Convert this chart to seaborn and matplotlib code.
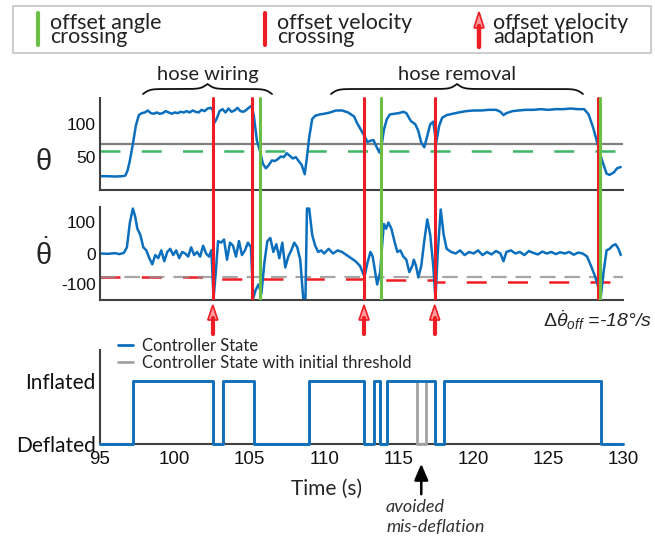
import numpy as np
import matplotlib
matplotlib.use("Agg")
import matplotlib.pyplot as plt
import matplotlib.transforms as mtrans
from matplotlib.lines import Line2D
from matplotlib.patches import Rectangle, Polygon
import seaborn as sns

# joint angle theta (deg) over time (s)
theta_t = [95.0, 95.5, 96.0, 96.5, 96.7, 96.85, 97.0, 97.2, 97.4, 97.6, 97.8, 98.0, 98.2, 98.4,
           98.6, 98.8, 99.0, 99.2, 99.4, 99.6, 99.8, 100.0, 100.2, 100.4, 100.6, 100.8, 101.0,
           101.2, 101.4, 101.6, 101.8, 102.0, 102.2, 102.4, 102.55, 102.62, 102.8, 103.0, 103.2,
           103.4, 103.6, 103.8, 104.0, 104.2, 104.4, 104.6, 104.8, 105.0, 105.15, 105.3, 105.5,
           105.7, 105.9, 106.1, 106.3, 106.5, 106.7, 106.9, 107.1, 107.3, 107.5, 107.7, 107.9,
           108.1, 108.3, 108.5, 108.7, 108.85, 109.0, 109.2, 109.4, 109.7, 110.0, 110.4, 110.8,
           111.2, 111.6, 112.0, 112.2, 112.5, 112.7, 112.9, 113.1, 113.3, 113.5, 113.7, 113.85,
           114.0, 114.2, 114.4, 114.7, 115.0, 115.3, 115.5, 115.8, 116.1, 116.3, 116.5, 116.7,
           116.9, 117.1, 117.3, 117.4, 117.5, 117.7, 117.9, 118.2, 118.6, 119.0, 119.5, 120.0,
           120.5, 121.0, 121.5, 121.8, 122.0, 122.2, 122.6, 123.0, 123.5, 124.0, 124.5, 125.0,
           125.5, 126.0, 126.5, 127.0, 127.4, 127.7, 128.0, 128.3, 128.6, 128.9, 129.1, 129.4,
           129.6, 129.85]
theta_v = [21, 21, 20.5, 21, 22, 30, 45, 70, 98, 114, 117, 118, 121, 117,
           116, 118, 116, 117, 120, 118, 116, 118, 117, 119, 118, 120, 118,
           121, 119, 118, 122, 120, 124, 125, 122, 101, 108, 120, 123,
           118, 124, 119, 121, 125, 120, 119, 122, 126, 128, 112, 75,
           60, 40, 33, 38, 45, 44, 47, 51, 50, 56, 52, 48,
           50, 44, 38, 24, 50, 80, 108, 113, 115, 116, 118, 121,
           121, 118, 112, 102, 90, 82, 73, 75, 76, 66, 57, 68,
           92, 108, 115, 116, 117, 119, 117, 105, 100, 90, 72, 65,
           82, 100, 104, 88, 72, 98, 110, 114, 116, 118, 120, 121,
           121, 122, 122, 119, 114, 117, 120, 121, 122, 122, 123, 122,
           123, 123, 124, 123, 123, 115, 95, 70, 45, 25, 23, 27,
           33, 35]

# angular velocity theta-dot (deg/s)
omega_t = [95.0, 95.5, 96.0, 96.3, 96.6, 96.8, 97.0, 97.2, 97.35, 97.5, 97.7, 97.9, 98.1, 98.3,
           98.5, 98.7, 98.9, 99.1, 99.3, 99.5, 99.7, 99.9, 100.1, 100.3, 100.5, 100.7, 100.9,
           101.1, 101.3, 101.5, 101.7, 101.9, 102.1, 102.3, 102.45, 102.6, 102.75, 102.9, 103.1,
           103.3, 103.5, 103.7, 103.9, 104.1, 104.3, 104.5, 104.7, 104.9, 105.1, 105.25, 105.4,
           105.6, 105.8, 106.0, 106.2, 106.4, 106.6, 106.8, 107.0, 107.2, 107.4, 107.6, 107.8,
           108.0, 108.2, 108.4, 108.6, 108.75, 108.85, 109.0, 109.2, 109.4, 109.6, 109.8, 110.0,
           110.3, 110.6, 110.9, 111.2, 111.5, 111.8, 112.1, 112.4, 112.7, 112.9, 113.1, 113.25,
           113.55, 113.75, 113.9, 114.0, 114.15, 114.3, 114.5, 114.7, 114.9, 115.1, 115.3, 115.5,
           115.7, 115.9, 116.0, 116.15, 116.3, 116.5, 116.7, 116.9, 117.1, 117.3, 117.45, 117.6,
           117.8, 118.0, 118.2, 118.5, 118.8, 119.1, 119.4, 119.7, 120.0, 120.3, 120.6, 120.9,
           121.2, 121.5, 121.8, 122.0, 122.2, 122.5, 122.8, 123.1, 123.4, 123.7, 124.0, 124.3,
           124.6, 124.9, 125.2, 125.5, 125.8, 126.1, 126.4, 126.7, 127.0, 127.3, 127.6, 127.9,
           128.1, 128.3, 128.5, 128.7, 128.9, 129.1, 129.3, 129.5, 129.7, 129.85]
omega_v = [0, -1, 1, -2, 2, 20, 100, 145, 120, 80, 60, 20, 10, -15,
           -35, -5, -15, 10, -25, 5, 15, -5, 10, -15, 5, 0, -10,
           20, -5, 5, -10, 25, 0, -10, 10, -145, -60, 40, 35,
           45, -20, 35, 25, -10, 40, -5, 10, 35, 20, -145, -120,
           -100, -130, -30, 40, 50, 5, 30, -15, 35, -45, -10, 10,
           35, 20, -20, -145, -145, 145, 145, 60, 25, 5, 10, 0,
           15, 0, 10, 5, -5, -15, -25, -40, -75, -30, 5, -10,
           -100, -60, 40, 95, 80, 100, 80, 40, 5, 10, -10, -20,
           -60, -40, -20, -40, -77, -40, 40, 110, 60, -40, -145, 0,
           142, 60, 15, 5, 0, 10, -5, 5, 0, 10, -5, 5,
           -3, 8, 0, -25, 5, 10, 0, 5, -5, 8, 2, -3,
           6, 0, 5, -2, 4, 0, 5, -4, 3, 0, -10, -45,
           -70, -100, -145, -60, 10, 15, 25, 30, 15, -5]

# thresholds
theta_thr = 70
theta_offset = 60
vel_thr_t = [95, 102.55, 112.67, 117.4, 130]
vel_thr_v = [-75, -81, -87, -93, -93]
vel_init = -75

# events
vel_cross = [102.55, 105.2, 112.67, 117.4, 128.3]
ang_cross = [105.7, 113.8, 128.45]
adapt_times = [102.55, 112.67, 117.4]

# controller state (0 = deflated, 1 = inflated)
state_t = [95, 97.2, 102.55, 103.2, 105.3, 109.0, 112.65, 113.35, 113.75, 114.2, 117.4, 118.0, 128.5, 130]
state_v = [0, 1, 0, 1, 0, 1, 0, 1, 0, 1, 0, 1, 0, 0]
state0_t = [95, 97.2, 102.55, 103.2, 105.3, 109.0, 112.65, 113.35, 113.75, 114.2, 116.2, 116.8,
            117.4, 118.0, 128.5, 130]
state0_v = [0, 1, 0, 1, 0, 1, 0, 1, 0, 1, 0, 1, 0, 1, 0, 0]

xticks = [95, 100, 105, 110, 115, 120, 125, 130]

BLUE = "#0b6fbd"
RED = "#ee1c24"
GREEN = "#6cbf45"
DGREEN = "#3cb764"
GRAY = "#7f7f7f"
AX = "#404040"

sns.set_theme(style="white")
plt.rcParams["font.family"] = ["Liberation Sans", "DejaVu Sans"]
plt.rcParams["axes.unicode_minus"] = False
plt.rcParams["mathtext.fontset"] = "custom"
plt.rcParams["mathtext.rm"] = "Liberation Sans"
plt.rcParams["mathtext.it"] = "Liberation Sans:italic"
LATO = ["Lato", "DejaVu Sans"]

W, H = 655, 538
fig = plt.figure(figsize=(W / 100, H / 100), dpi=100)


def fx(px):
    return px / W


def fy(py):
    return 1 - py / H


def rect(l, t, r, b):
    return [l / W, 1 - b / H, (r - l) / W, (b - t) / H]


ax1 = fig.add_axes(rect(100, 98, 623, 190))
ax2 = fig.add_axes(rect(100, 207, 623, 300))
ax3 = fig.add_axes(rect(100, 350, 623, 444))

for ax in (ax1, ax2, ax3):
    ax.patch.set_visible(False)
    sns.despine(ax=ax)
    for s in ("left", "bottom"):
        ax.spines[s].set_color(AX)
        ax.spines[s].set_linewidth(1.5)
    ax.set_xlim(95, 130)
    ax.set_xticks(xticks)
    ax.tick_params(direction="in", length=4, width=1.5, color=AX, pad=3,
                   labelsize=12.5, labelcolor="#111111")

# theta panel
ax1.set_ylim(0, 140)
ax1.set_yticks([50, 100])
ax1.set_xticklabels([])
ax1.axhline(theta_offset, color=DGREEN, lw=1.8, dashes=(8, 8.5), zorder=1)
ax1.axhline(theta_thr, color=GRAY, lw=1.6, zorder=1)
sns.lineplot(x=theta_t, y=theta_v, ax=ax1, color=BLUE, lw=1.8, estimator=None, sort=False, zorder=2)

# theta-dot panel
ax2.set_ylim(-150, 150)
ax2.set_yticks([-100, 0, 100])
ax2.set_xticklabels([])
sns.lineplot(x=vel_thr_t, y=vel_thr_v, ax=ax2, color=RED, lw=1.8, dashes=(8, 8.5),
             drawstyle="steps-post", estimator=None, sort=False, zorder=1)
ax2.axhline(vel_init, color="#909090", lw=1.6, dashes=(7, 4), alpha=0.8, zorder=1.2)
sns.lineplot(x=omega_t, y=omega_v, ax=ax2, color=BLUE, lw=1.8, estimator=None, sort=False, zorder=2)

# event lines across both upper panels
gap = (207 - 190) / 92
for t in vel_cross:
    ax1.axvline(t, ymin=-gap, ymax=1, color=RED, lw=2.2, clip_on=False, zorder=3)
    ax2.axvline(t, color=RED, lw=2.2, zorder=3)
for t in ang_cross:
    ax1.axvline(t, ymin=-gap, ymax=1, color=GREEN, lw=2.2, clip_on=False, zorder=3)
    ax2.axvline(t, color=GREEN, lw=2.2, zorder=3)

# controller state panel
ax3.set_ylim(0, 1.5)
ax3.set_yticks([0, 0.5, 1, 1.5])
ax3.set_yticklabels(["Deflated", "", "Inflated", ""], fontsize=15, family=LATO)
ax3.tick_params(axis="x", labelsize=13.5, pad=5)
sns.lineplot(x=state0_t, y=state0_v, ax=ax3, color="#a3a3a3", lw=2, drawstyle="steps-post",
             estimator=None, sort=False, zorder=3, clip_on=False)
sns.lineplot(x=state_t, y=state_v, ax=ax3, color=BLUE, lw=2, drawstyle="steps-post",
             estimator=None, sort=False, zorder=4, clip_on=False)
ax3.legend(handles=[Line2D([], [], color=BLUE, lw=2), Line2D([], [], color="#a3a3a3", lw=2)],
           labels=["Controller State", "Controller State with initial threshold"],
           loc="upper left", bbox_to_anchor=(0.035, 1.13), frameon=False,
           prop={"family": LATO, "size": 12},
           handlelength=0.9, handletextpad=0.5, labelspacing=0.05, borderaxespad=0, borderpad=0)

# red adaptation arrows below velocity panel
blend = mtrans.blended_transform_factory(ax2.transData, fig.transFigure)
hw = 5 / 14.94
for t in adapt_times:
    fig.add_artist(Line2D([t, t], [fy(334), fy(318)], color=RED, lw=3, transform=blend))
    fig.add_artist(Polygon([[t - hw, fy(320)], [t, fy(305)], [t + hw, fy(320)]], closed=True,
                           fc="#ff9d9d", ec=RED, lw=1.2, transform=blend))

# top legend box
fig.add_artist(Rectangle((fx(13), fy(53)), fx(651) - fx(13), fy(6) - fy(53),
                         transform=fig.transFigure, fill=False, ec="#c8c8c8", lw=1.3))
fig.add_artist(Line2D([fx(38)] * 2, [fy(13), fy(45)], color=GREEN, lw=3))
fig.add_artist(Line2D([fx(265)] * 2, [fy(13), fy(45)], color=RED, lw=3))
fig.add_artist(Line2D([fx(479)] * 2, [fy(47), fy(26)], color=RED, lw=3.2))
fig.add_artist(Polygon([[fx(474), fy(28)], [fx(479), fy(12)], [fx(484), fy(28)]], closed=True,
                       fc="#ff9d9d", ec=RED, lw=1.2, transform=fig.transFigure))
for x0, lbl in [(50, "offset angle\ncrossing"), (277, "offset velocity\ncrossing"),
                (493, "offset velocity\nadaptation")]:
    fig.text(fx(x0), fy(30), lbl, fontsize=15.5, va="center", linespacing=0.68,
             color="#222222", family=LATO)

# braces with phase names
def brace(x1, x2, ytip, yend):
    xs = np.linspace(x1, x2, 301)
    half = xs[:151]
    b = 0.3
    yh = 1 / (1 + np.exp(-b * (half - half[0]))) + 1 / (1 + np.exp(-b * (half - half[-1])))
    yn = np.concatenate([yh, yh[-2::-1]]) - 0.5
    py = yend - yn * (yend - ytip)
    fig.add_artist(Line2D(fx(xs), fy(py), color="#111111", lw=1.3))


brace(143, 272, 84, 94)
brace(331, 583, 84, 94)
fig.text(fx(208), fy(80), "hose wiring", fontsize=14.5, ha="center", va="baseline",
         color="#222222", family=LATO)
fig.text(fx(457), fy(80), "hose removal", fontsize=14.5, ha="center", va="baseline",
         color="#222222", family=LATO)

# axis symbols and annotations
fig.text(fx(43), fy(162), r"$\mathrm{\theta}$", fontsize=21, ha="center", va="center")
fig.text(fx(43), fy(255), r"$\dot{\mathrm{\theta}}$", fontsize=21, ha="center", va="center")
fig.text(fx(652), fy(327), r"$\mathit{\Delta}\dot{\mathit{\theta}}_{\mathit{off}}$ =-18°/s",
         fontsize=14, ha="right", va="baseline", style="italic")
fig.text(fx(327), fy(489), "Time (s)", fontsize=15, ha="center", va="center", family=LATO)
fig.text(fx(386), fy(507), "avoided", fontsize=13, style="italic", va="center",
         color="#333333", family=LATO)
fig.text(fx(386), fy(527), "mis-deflation", fontsize=13, style="italic", va="center",
         color="#333333", family=LATO)
blend3 = mtrans.blended_transform_factory(ax3.transData, fig.transFigure)
ax3.annotate("", xy=(116.5, fy(461)), xytext=(116.5, fy(497)), xycoords=blend3, textcoords=blend3,
             arrowprops=dict(arrowstyle="-|>,head_length=0.7,head_width=0.3", color="black", lw=1.8,
                             mutation_scale=14), annotation_clip=False)

fig.savefig("out.png", dpi=100)
